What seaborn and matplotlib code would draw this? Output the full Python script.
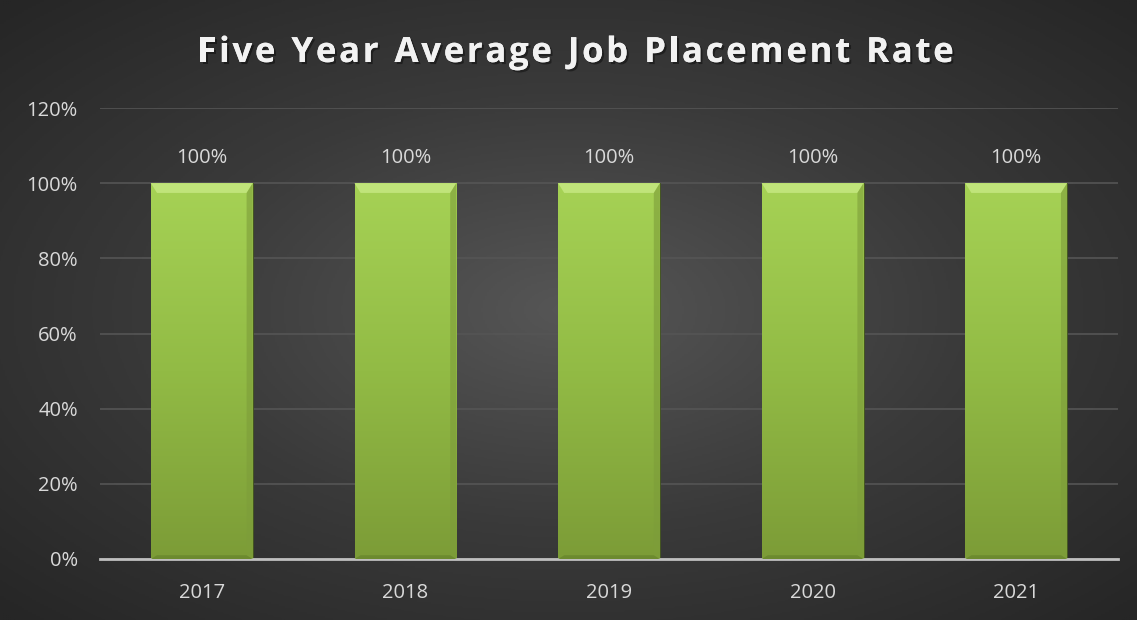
import numpy as np
import matplotlib
matplotlib.use("Agg")
import matplotlib.pyplot as plt
import matplotlib.patheffects as pe
from matplotlib.colors import LinearSegmentedColormap
import seaborn as sns
import pandas as pd

years = ['2017', '2018', '2019', '2020', '2021']
placement_rate = [1.00, 1.00, 1.00, 1.00, 1.00]
y_ticks = [0, 0.2, 0.4, 0.6, 0.8, 1.0, 1.2]
title = 'Five Year Average Job Placement Rate'

sns.set_style("dark")
plt.rcParams['font.family'] = ['Open Sans', 'DejaVu Sans']

df = pd.DataFrame({'year': years, 'rate': placement_rate})

fig = plt.figure(figsize=(11.37, 6.2), dpi=100)

# radial dark background
bg = fig.add_axes([0, 0, 1, 1], zorder=0)
yy, xx = np.mgrid[-1:1:310j, -1:1:570j]
r = np.sqrt(xx ** 2 + yy ** 2)
bg_cmap = LinearSegmentedColormap.from_list('bg', ['#565656', '#3a3a3a', '#262626'])
bg.imshow(r, cmap=bg_cmap, aspect='auto', extent=[0, 1, 0, 1], vmin=0, vmax=1.4)
bg.set_axis_off()

ax = fig.add_axes([100 / 1137, 61 / 620, 1018 / 1137, 451 / 620], zorder=1)
ax.patch.set_alpha(0)

sns.barplot(data=df, x='year', y='rate', color='#9ac84a', width=0.5,
            ax=ax, saturation=1, edgecolor='#3d4d1c', linewidth=0.6)

ax.set_ylim(0, 1.2)
ax.set_xlim(-0.5, len(years) - 0.5)

# gradient fill on each bar
bar_cmap = LinearSegmentedColormap.from_list('bar', ['#7c9c37', '#92bb45', '#a6d255'])
grad = np.linspace(0, 1, 256).reshape(-1, 1)
for p in ax.patches:
    x0, y0 = p.get_x(), p.get_y()
    w, h = p.get_width(), p.get_height()
    im = ax.imshow(grad, cmap=bar_cmap, origin='lower', aspect='auto',
                   extent=[x0, x0 + w, y0, y0 + h], zorder=2)
    im.set_clip_path(p)
    # bevel edges
    ax.fill([x0, x0 + w, x0 + w - 0.03, x0 + 0.03],
            [y0 + h, y0 + h, y0 + h - 0.026, y0 + h - 0.026],
            color='#c0e47a', zorder=3, lw=0)
    ax.fill([x0 + w, x0 + w, x0 + w - 0.03, x0 + w - 0.03],
            [y0, y0 + h, y0 + h - 0.026, y0 + 0.01],
            color='#7d9d3a', alpha=0.6, zorder=3, lw=0)
    ax.fill([x0, x0 + w, x0 + w - 0.03, x0 + 0.03],
            [y0, y0, y0 + 0.01, y0 + 0.01],
            color='#6c8a2f', zorder=3, lw=0)

ax.bar_label(ax.containers[0], labels=[f"{v:.0%}" for v in placement_rate],
             padding=11, color='#d9d9d9', fontsize=14.5)

ax.set_yticks(y_ticks)
ax.set_yticklabels([f"{t:.0%}" for t in y_ticks])
ax.tick_params(axis='both', colors='#d9d9d9', labelsize=14.5, length=0)
ax.tick_params(axis='y', pad=16)
ax.tick_params(axis='x', pad=17)
ax.set_xlabel('')
ax.set_ylabel('')
ax.grid(axis='y', color='#555555', linewidth=1.2)
ax.grid(axis='x', visible=False)
ax.set_axisbelow(True)
for s in ['top', 'right', 'left']:
    ax.spines[s].set_visible(False)
ax.spines['bottom'].set_color('#bfbfbf')
ax.spines['bottom'].set_linewidth(2)

# title with letter spacing, drawn glyph by glyph
shadow = [pe.withSimplePatchShadow(offset=(1.5, -1.5), shadow_rgbFace='black', alpha=0.4),
          pe.Normal()]
renderer = fig.canvas.get_renderer()
spacing = 2.7
widths = []
for ch in title:
    t = fig.text(0, 0, ch if ch != ' ' else 'i', fontsize=25, fontweight='bold')
    widths.append(t.get_window_extent(renderer).width)
    t.remove()
total = sum(widths) + spacing * (len(title) - 1)
x = 1137 / 2 + 7 - total / 2
for ch, wpx in zip(title, widths):
    if ch != ' ':
        fig.text(x / 1137, 1 - 53 / 620, ch, ha='left', va='center',
                 color='#f2f2f2', fontsize=25, fontweight='bold',
                 path_effects=shadow)
    x += wpx + spacing

fig.savefig('out.png', dpi=100)
